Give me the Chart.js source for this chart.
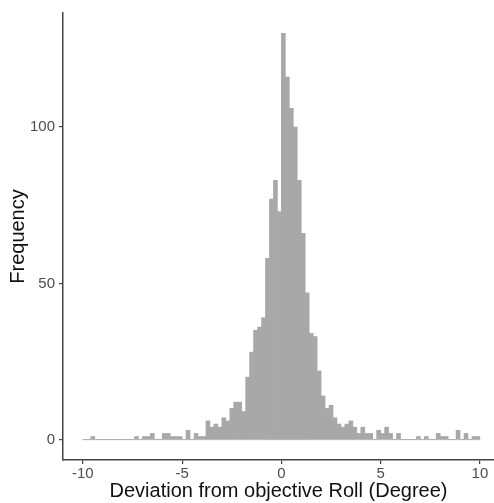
<!DOCTYPE html>
<html><head><meta charset="utf-8">
<script src="https://cdn.jsdelivr.net/npm/chart.js@4.4.1/dist/chart.umd.min.js"></script>
<style>html,body{margin:0;padding:0;background:#fff}#wrap{width:494px;height:503px}</style>
</head><body><div id="wrap"><canvas id="c" width="494" height="503"></canvas></div>
<script>
const binCenters = [
 -9.9,-9.7,-9.5,-9.3,-9.1,-8.9,-8.7,-8.5,-8.3,-8.1,
 -7.9,-7.7,-7.5,-7.3,-7.1,-6.9,-6.7,-6.5,-6.3,-6.1,
 -5.9,-5.7,-5.5,-5.3,-5.1,-4.9,-4.7,-4.5,-4.3,-4.1,
 -3.9,-3.7,-3.5,-3.3,-3.1,-2.9,-2.7,-2.5,-2.3,-2.1,
 -1.9,-1.7,-1.5,-1.3,-1.1,-0.9,-0.7,-0.5,-0.3,-0.1,
 0.1,0.3,0.5,0.7,0.9,1.1,1.3,1.5,1.7,1.9,
 2.1,2.3,2.5,2.7,2.9,3.1,3.3,3.5,3.7,3.9,
 4.1,4.3,4.5,4.7,4.9,5.1,5.3,5.5,5.7,5.9,
 6.1,6.3,6.5,6.7,6.9,7.1,7.3,7.5,7.7,7.9,
 8.1,8.3,8.5,8.7,8.9,9.1,9.3,9.5,9.7,9.9
];
const counts = [
 0,0,1,0,0,0,0,0,0,0,
 0,0,0,1,0,1,1,2,0,0,
 2,2,1,1,1,0,3,0,2,1,
 1,6,4,5,4,7,6,10,12,12,
 9,20,28,35,36,39,58,77,83,73,
 130,116,106,100,83,66,47,34,33,22,
 14,10,11,7,5,4,5,6,4,2,
 4,2,2,0,3,2,4,2,0,2,
 0,0,0,0,1,0,1,0,0,2,
 1,1,0,0,3,0,2,0,1,1
];
const binWidth = 0.2;
const xTicks = [-10,-5,0,5,10];
const yTicks = [0,50,100];
const xTitle = 'Deviation from objective Roll (Degree)';
const yTitle = 'Frequency';

const FONT = "'Liberation Sans', Arial, sans-serif";
const axisColor = '#444';
const tickColor = '#4d4d4d';

new Chart(document.getElementById('c'), {
  type: 'bar',
  data: {
    datasets: [
      {
        type: 'bar',
        data: binCenters.map((x, i) => ({x: x, y: counts[i]})),
        backgroundColor: '#a8a8a8',
        borderWidth: 0,
        barPercentage: 1,
        categoryPercentage: 1,
        order: 1
      },
      {
        type: 'line',
        data: [{x: binCenters[0] - binWidth / 2, y: 0}, {x: binCenters[binCenters.length - 1] + binWidth / 2, y: 0}],
        borderColor: '#bdbdbd',
        borderWidth: 1,
        pointRadius: 0,
        order: 2
      }
    ]
  },
  options: {
    responsive: false,
    animation: false,
    layout: {padding: {top: 11, left: 0, right: 0, bottom: 0}},
    plugins: {legend: {display: false}, tooltip: {enabled: false}},
    scales: {
      x: {
        type: 'linear',
        offset: false,
        min: -11,
        max: 10.71,
        afterBuildTicks: s => { s.ticks = xTicks.map(v => ({value: v})); },
        afterFit: s => { s.height = 43; },
        grid: {offset: false, drawOnChartArea: false, drawTicks: true, tickLength: 4, color: axisColor, lineWidth: 1.2},
        border: {display: true, color: axisColor, width: 1.5},
        ticks: {color: tickColor, font: {family: FONT, size: 15}, padding: 1, maxRotation: 0, autoSkip: false},
        title: {display: true, text: xTitle, color: '#111', font: {family: FONT, size: 20}, padding: {top: 0, bottom: 0}}
      },
      y: {
        type: 'linear',
        min: -6.5,
        max: 136.5,
        afterBuildTicks: s => { s.ticks = yTicks.map(v => ({value: v})); },
        afterFit: s => { s.width = 63; },
        grid: {drawOnChartArea: false, drawTicks: true, tickLength: 4, color: axisColor, lineWidth: 1.2},
        border: {display: true, color: axisColor, width: 1.5},
        ticks: {color: tickColor, font: {family: FONT, size: 15}, padding: 4},
        title: {display: true, text: yTitle, color: '#111', font: {family: FONT, size: 20}, padding: {top: 6, bottom: 0}}
      }
    }
  }
});
</script>
</body></html>
